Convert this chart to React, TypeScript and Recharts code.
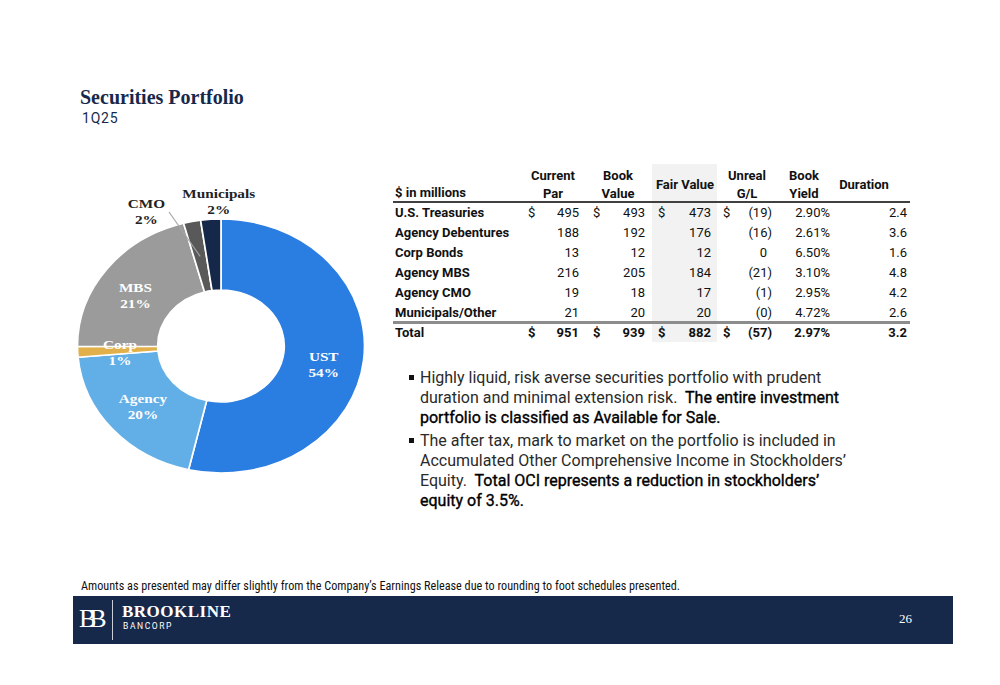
import React from "react";
import { PieChart, Pie, Cell } from "recharts";

// ---------- Data ----------
const categories = ["UST", "Agency", "Corp", "MBS", "CMO", "Municipals"];
const fairValueShares = [473, 176, 12, 184, 17, 20];
const sliceColors = ["#2A7DE1", "#62AEE7", "#E2B04A", "#9B9B9B", "#595959", "#16284A"];

const rowLabels = [
  "U.S. Treasuries",
  "Agency Debentures",
  "Corp Bonds",
  "Agency MBS",
  "Agency CMO",
  "Municipals/Other",
];
const currentPar = [495, 188, 13, 216, 19, 21];
const bookValue = [493, 192, 12, 205, 18, 20];
const fairValue = [473, 176, 12, 184, 17, 20];
const unrealGL = [-19, -16, 0, -21, -1, -0];
const bookYield = ["2.90%", "2.61%", "6.50%", "3.10%", "2.95%", "4.72%"];
const duration = ["2.4", "3.6", "1.6", "4.8", "4.2", "2.6"];
const totalRow = { par: 951, book: 939, fair: 882, gl: -57, yld: "2.97%", dur: "3.2" };

const pieData = categories.map((name, i) => ({ name, value: fairValueShares[i] }));

// ---------- Styles ----------
const NAVY = "#17294B";
const SANS = "Roboto, 'Liberation Sans', Arial, sans-serif";
const SERIF = "'Liberation Serif', 'Times New Roman', serif";

const RAD = Math.PI / 180;
const PIE_W = 340;
const PIE_C = 170;
const STRETCH = 1.13;

const outsideLabelPos: Record<string, [number, number]> = {
  CMO: [-66, -135],
  Municipals: [-2, -145],
};
const insideLabelNudge: Record<string, [number, number]> = {
  UST: [0, 8],
  MBS: [-3, 5],
  Corp: [2, 2],
};

const renderLabel = (props: any) => {
  const { cx, cy, midAngle, innerRadius, outerRadius, percent, name } = props;
  const pct = `${Math.round(percent * 100)}%`;
  const out = outsideLabelPos[name];
  if (out) {
    const x = cx + out[0];
    const y = cy + out[1];
    let line = null;
    if (name === "CMO") {
      const r = (innerRadius + outerRadius) / 2;
      const ex = cx + r * Math.cos(-midAngle * RAD);
      const ey = cy + r * Math.sin(-midAngle * RAD);
      line = (
        <line x1={x + 20} y1={y + 1} x2={ex} y2={ey} stroke="#A6A6A6" strokeWidth={1} />
      );
    }
    return (
      <g key={`lbl-${name}`}>
        {line}
        <text x={x} y={y} textAnchor="middle" fontFamily={SERIF} fontSize={13.5} fontWeight="bold" fill="#222">
          <tspan x={x} dy={-3}>{name}</tspan>
          <tspan x={x} dy={16}>{pct}</tspan>
        </text>
      </g>
    );
  }
  const r = (innerRadius + outerRadius) / 2;
  const nudge = insideLabelNudge[name] || [0, 0];
  const x = cx + r * Math.cos(-midAngle * RAD) + nudge[0];
  const y = cy + r * Math.sin(-midAngle * RAD) + nudge[1];
  return (
    <text key={`lbl-${name}`} x={x} y={y} textAnchor="middle" fontFamily={SERIF} fontSize={13.5} fontWeight="bold" fill="#FFFFFF">
      <tspan x={x} dy={-3}>{name}</tspan>
      <tspan x={x} dy={16}>{pct}</tspan>
    </text>
  );
};

const fmtGL = (v: number) => {
  if (v < 0 || Object.is(v, -0)) return `(${Math.abs(v)})`;
  return `${v}`;
};

// Table column geometry
const COL = {
  labelX: 395,
  dollars: [528, 593, 658, 723],
  rights: [579, 645, 711, 772],
  yieldR: 830,
  durR: 907,
};
const rowY = [213, 233, 253, 273, 293, 313];
const totalY = 333;

const Cell2 = ({ x, y, text, align = "left", bold = false }: any) => (
  <div
    style={{
      position: "absolute",
      top: y - 9,
      height: 18,
      lineHeight: "18px",
      ...(align === "left" ? { left: x } : { right: 1000 - x }),
      whiteSpace: "nowrap",
      fontWeight: bold ? 700 : 400,
      textAlign: align,
    }}
  >
    {text}
  </div>
);

const TableRow = ({ y, label, vals, gl, yld, dur, dollars, bold }: any) => (
  <>
    <Cell2 x={COL.labelX} y={y} text={label} bold />
    {dollars &&
      COL.dollars.map((dx: number, i: number) => <Cell2 key={`d${i}`} x={dx} y={y} text="$" bold={bold} />)}
    {vals.map((v: number, i: number) => (
      <Cell2 key={`v${i}`} x={COL.rights[i]} y={y} text={`${v}`} align="right" bold={bold} />
    ))}
    <Cell2
      x={gl < 0 || Object.is(gl, -0) ? COL.rights[3] : COL.rights[3] - 5}
      y={y}
      text={fmtGL(gl)}
      align="right"
      bold={bold}
    />
    <Cell2 x={COL.yieldR} y={y} text={yld} align="right" bold={bold} />
    <Cell2 x={COL.durR} y={y} text={dur} align="right" bold={bold} />
  </>
);

const Header = ({ x, lines, y }: any) => (
  <div
    style={{
      position: "absolute",
      left: x - 50,
      width: 100,
      top: y,
      textAlign: "center",
      fontWeight: 700,
      lineHeight: "18px",
    }}
  >
    {lines.map((l: string, i: number) => (
      <div key={i}>{l}</div>
    ))}
  </div>
);

const bullet1 = [
  [{ t: "Highly liquid, risk averse securities portfolio with prudent", b: false }],
  [
    { t: "duration and minimal extension risk.  ", b: false },
    { t: "The entire investment", b: true },
  ],
  [{ t: "portfolio is classified as Available for Sale.", b: true }],
];
const bullet2 = [
  [{ t: "The after tax, mark to market on the portfolio is included in", b: false }],
  [{ t: "Accumulated Other Comprehensive Income in Stockholders\u2019", b: false }],
  [
    { t: "Equity.  ", b: false },
    { t: "Total OCI represents a reduction in stockholders\u2019", b: true },
  ],
  [{ t: "equity of 3.5%.", b: true }],
];

const Bullet = ({ lines, top }: any) => (
  <div style={{ position: "absolute", left: 420, top, fontSize: 16, lineHeight: "20px", fontFamily: SANS }}>
    <div
      style={{ position: "absolute", left: -11, top: 7, width: 5, height: 5, background: "#111" }}
    />
    {lines.map((segs: any[], i: number) => (
      <div key={i} style={{ whiteSpace: "pre" }}>
        {segs.map((s, j) => (
          <span
            key={j}
            style={{
              color: s.b ? "#000" : "#2a2a2a",
              fontWeight: 400,
              WebkitTextStroke: s.b ? "0.35px #000" : undefined,
            }}
          >
            {s.t}
          </span>
        ))}
      </div>
    ))}
  </div>
);

export default function App() {
  return (
    <div
      style={{
        position: "absolute",
        left: 0,
        top: 0,
        width: 1000,
        height: 685,
        background: "#fff",
        overflow: "hidden",
        fontFamily: SANS,
      }}
    >
      {/* Title */}
      <div
        style={{
          position: "absolute",
          left: 80,
          top: 86,
          fontFamily: SERIF,
          fontWeight: 700,
          fontSize: 20,
          color: NAVY,
          whiteSpace: "nowrap",
        }}
      >
        Securities Portfolio
      </div>
      <div
        style={{
          position: "absolute",
          left: 82,
          top: 110,
          fontSize: 14,
          letterSpacing: 0.8,
          color: NAVY,
          fontFamily: SANS,
        }}
      >
        1Q25
      </div>

      {/* Donut */}
      <div
        style={{
          position: "absolute",
          left: 220.5 - PIE_C,
          top: 345.5 - PIE_C,
          width: PIE_W,
          height: PIE_W,
          transform: `scaleX(${STRETCH})`,
          transformOrigin: `${PIE_C}px ${PIE_C}px`,
        }}
      >
        <PieChart width={PIE_W} height={PIE_W} margin={{ top: 0, right: 0, bottom: 0, left: 0 }}>
          <Pie
            data={pieData}
            dataKey="value"
            nameKey="name"
            cx={PIE_C}
            cy={PIE_C}
            innerRadius={56}
            outerRadius={127}
            startAngle={90}
            endAngle={-270}
            stroke="#FFFFFF"
            strokeWidth={1.5}
            label={renderLabel}
            labelLine={false}
            isAnimationActive={false}
          >
            {pieData.map((d, i) => (
              <Cell key={d.name} fill={sliceColors[i]} />
            ))}
          </Pie>
        </PieChart>
      </div>

      {/* Table */}
      <div style={{ position: "absolute", left: 0, top: 0, width: 1000, height: 685, fontSize: 13, color: "#111" }}>
        <div style={{ position: "absolute", left: 652, top: 164, width: 65, height: 178, background: "#F2F2F2" }} />
        <Header x={553} y={167} lines={["Current", "Par"]} />
        <Header x={618} y={167} lines={["Book", "Value"]} />
        <Header x={685} y={176} lines={["Fair Value"]} />
        <Header x={747} y={167} lines={["Unreal", "G/L"]} />
        <Header x={804} y={167} lines={["Book", "Yield"]} />
        <Header x={864} y={176} lines={["Duration"]} />
        <Cell2 x={COL.labelX} y={193} text="$ in millions" bold />
        <div style={{ position: "absolute", left: 393, top: 201, width: 517, height: 2, background: "#404040" }} />
        {rowLabels.map((lab, i) => (
          <TableRow
            key={lab}
            y={rowY[i]}
            label={lab}
            vals={[currentPar[i], bookValue[i], fairValue[i]]}
            gl={unrealGL[i]}
            yld={bookYield[i]}
            dur={duration[i]}
            dollars={i === 0}
            bold={false}
          />
        ))}
        <div style={{ position: "absolute", left: 393, top: 321, width: 517, height: 3, background: "#8C8C8C" }} />
        <TableRow
          y={totalY}
          label="Total"
          vals={[totalRow.par, totalRow.book, totalRow.fair]}
          gl={totalRow.gl}
          yld={totalRow.yld}
          dur={totalRow.dur}
          dollars
          bold
        />
      </div>

      {/* Bullets */}
      <Bullet lines={bullet1} top={368} />
      <Bullet lines={bullet2} top={431} />

      {/* Footnote */}
      <div
        style={{
          position: "absolute",
          left: 81,
          top: 579,
          fontSize: 12.2,
          fontFamily: "'Liberation Sans Narrow', 'Roboto Condensed', " + SANS,
          color: "#111",
          whiteSpace: "nowrap",
        }}
      >
        Amounts as presented may differ slightly from the Company&#8217;s Earnings Release due to rounding to foot
        schedules presented.
      </div>

      {/* Footer band */}
      <div style={{ position: "absolute", left: 73, top: 596, width: 880, height: 48, background: NAVY }}>
        <div
          style={{
            position: "absolute",
            left: 6,
            top: 8,
            fontFamily: SERIF,
            fontSize: 26,
            color: "#fff",
            letterSpacing: -7,
            lineHeight: "30px",
          }}
        >
          BB
        </div>
        <div style={{ position: "absolute", left: 39, top: 4, width: 1, height: 40, background: "#C9CED8" }} />
        <div
          style={{
            position: "absolute",
            left: 49,
            top: 6,
            fontFamily: SERIF,
            fontWeight: 700,
            fontSize: 17,
            color: "#fff",
            letterSpacing: 0.5,
          }}
        >
          BROOKLINE
        </div>
        <div
          style={{
            position: "absolute",
            left: 50,
            top: 25,
            fontFamily: SANS,
            fontSize: 8.5,
            color: "#fff",
            letterSpacing: 1.6,
          }}
        >
          BANCORP
        </div>
        <div
          style={{ position: "absolute", left: 826, top: 15, fontFamily: SERIF, fontSize: 13, color: "#fff" }}
        >
          26
        </div>
      </div>
    </div>
  );
}
